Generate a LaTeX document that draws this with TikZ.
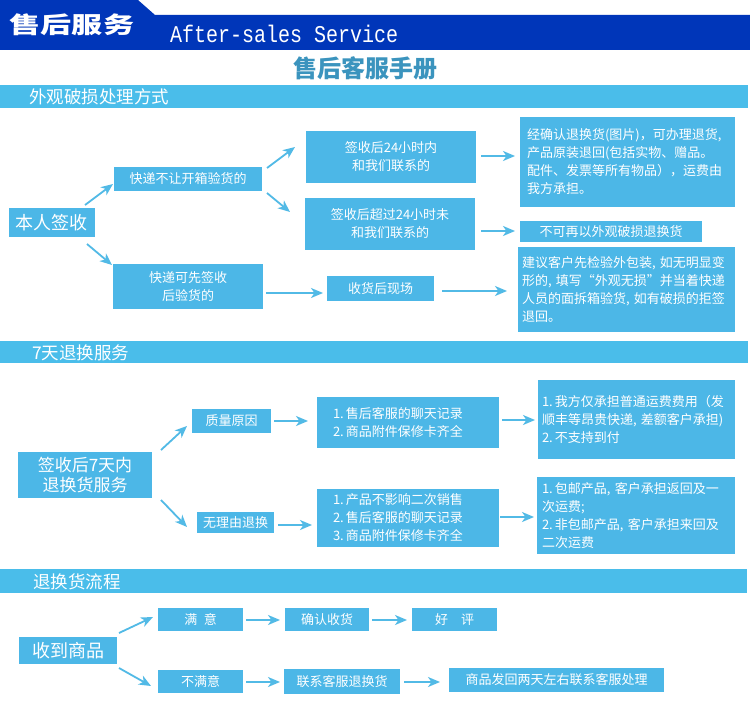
\documentclass[tikz,border=0pt]{standalone}
\usepackage{fontspec}
\usepackage{graphicx}
\setmainfont{Noto Sans CJK SC}
\newfontfamily\monof{Liberation Mono}
\usetikzlibrary{arrows.meta,calc}
\definecolor{hdr}{RGB}{0,54,185}
\definecolor{boxc}{RGB}{76,183,231}
\definecolor{barc}{RGB}{74,189,234}
\definecolor{ttl}{RGB}{59,148,190}
\definecolor{arrc}{RGB}{82,186,230}
\newcommand{\nm}[1]{#1.\hspace{2pt}}
\begin{document}
\begin{tikzpicture}[x=1pt,y=-1pt,
  box/.style={fill=boxc,text=white,inner sep=0pt,outer sep=0pt,font=\fontsize{13}{18}\selectfont,align=center},
  lbox/.style={box,align=left},
  bigbox/.style={box,font=\fontsize{18}{20}\selectfont},
  barlabel/.style={anchor=west,text=white,inner sep=0pt,font=\fontsize{17.5}{18}\selectfont},
  arr/.style={draw=arrc,line width=1.8pt,-{Stealth[length=12pt,width=10pt,inset=3.5pt]}}]
\useasboundingbox (0,0) rectangle (750,706);
\fill[white] (0,0) rectangle (750,706);
% header
\fill[hdr] (0,0) -- (138,0) -- (155,15) -- (750,15) -- (750,50) -- (0,50) -- cycle;
\node[text=white,inner sep=0pt,font=\bfseries\fontsize{23}{23}\selectfont] (t1) at (72,25) {\scalebox{1.35}[1]{售后服务}};
\node[anchor=west,text=white,inner sep=0pt,font=\monof\fontsize{20}{20}\selectfont] (t2) at (170,34) {\scalebox{1}[1.2]{After-sales Service}};
\node[text=ttl,inner sep=0pt,font=\bfseries\fontsize{24}{24}\selectfont] (t3) at (365.5,68.5) {售后客服手册};
% section bars
\fill[barc] (0,85) rectangle (748,108);
\node[barlabel] (h1) at (29,97) {外观破损处理方式};
\fill[barc] (0,341) rectangle (748,363);
\node[barlabel] (h2) at (32,353) {7天退换服务};
\fill[barc] (0,569) rectangle (747,593);
\node[barlabel] (h3) at (33,582) {退换货流程};
% section 1
\node[bigbox,minimum width=86,minimum height=29] (nr) at (52,222.5) {本人签收};
\node[box,minimum width=148,minimum height=24] (k1) at (188,179) {快递不让开箱验货的};
\node[box,minimum width=150,minimum height=45] (k2) at (188,286.5) {快递可先签收\\后验货的};
\node[box,minimum width=170,minimum height=52] (b1) at (391,157) {签收后24小时内\\和我们联系的};
\node[box,minimum width=170,minimum height=52] (b2) at (390,224) {签收后超过24小时未\\和我们联系的};
\node[box,minimum width=107,minimum height=25] (sh) at (380.5,288.5) {收货后现场};
\node[lbox,minimum width=215,minimum height=90,inner xsep=7pt,text width=201pt] (c1) at (627.5,162)
  {\mbox{经确认退换货(图片)，可办理退货,}\\\mbox{产品原装退回(包括实物、赠品。}\\\mbox{配件、发票等所有物品），运费由}\\\mbox{我方承担。}};
\node[box,minimum width=182,minimum height=21] (c2) at (611,231.5) {不可再以外观破损退换货};
\node[lbox,minimum width=217,minimum height=85,inner xsep=4pt,text width=209pt] (c3) at (626.5,289.5)
  {\mbox{建议客户先检验外包装, 如无明显变}\\\mbox{形的, 填写“外观无损”并当着快递}\\\mbox{人员的面拆箱验货, 如有破损的拒签}\\\mbox{退回。}};
% section 2
\node[box,font=\fontsize{17}{20}\selectfont,minimum width=134,minimum height=46] (s2) at (85,475) {签收后7天内\\退换货服务};
\node[box,minimum width=79,minimum height=24] (q1) at (231.5,421) {质量原因};
\node[box,minimum width=77,minimum height=21] (q2) at (235.5,522.5) {无理由退换};
\node[lbox,minimum width=182,minimum height=51,inner xsep=16pt,text width=150pt] (d1) at (408,422.5)
  {\mbox{\nm1售后客服的聊天记录}\\\mbox{\nm2商品附件保修卡齐全}};
\node[lbox,minimum width=182,minimum height=58,inner xsep=16pt,text width=150pt] (d2) at (408,518)
  {\mbox{\nm1产品不影响二次销售}\\\mbox{\nm2售后客服的聊天记录}\\\mbox{\nm3商品附件保修卡齐全}};
\node[lbox,minimum width=197,minimum height=79,inner xsep=4pt,text width=189pt] (e1) at (636.5,419.5)
  {\mbox{\nm1我方仅承担普通运费费用（发}\\\mbox{顺丰等昂贵快递, 差额客户承担)}\\\mbox{\nm2不支持到付}};
\node[lbox,minimum width=198,minimum height=77,inner xsep=5pt,text width=188pt] (e2) at (636,515.5)
  {\mbox{\nm1包邮产品, 客户承担返回及一}\\\mbox{次运费;}\\\mbox{\nm2非包邮产品, 客户承担来回及}\\\mbox{二次运费}};
% section 3
\node[bigbox,minimum width=98,minimum height=27] (r) at (68,650.5) {收到商品};
\node[box,minimum width=85,minimum height=23] (m1) at (200.5,619.5) {满\enspace 意};
\node[box,minimum width=84,minimum height=23] (m2) at (327,619.5) {确认收货};
\node[box,minimum width=85,minimum height=23] (m3) at (454.5,619.5) {好\quad 评};
\node[box,minimum width=85,minimum height=23] (n1) at (200.5,681.5) {不满意};
\node[box,minimum width=116,minimum height=25] (n2) at (342,681.5) {联系客服退换货};
\node[box,minimum width=215,minimum height=24] (n3) at (556.5,680) {商品发回两天左右联系客服处理};
% arrows section 1
\draw[arr] ($(nr.north east)+(-10,-3)$) -- ($(k1.west)+(-1,5)$);
\draw[arr] ($(nr.south east)+(-8,7)$) -- ($(k2.north west)+(-1,1)$);
\draw[arr] ($(k1.north east)+(5,1)$) -- ($(b1.west)+(-11,-10)$);
\draw[arr] ($(k1.south east)+(5,2)$) -- ($(b2.west)+(-15,-12)$);
\draw[arr] ($(k2.east)+(3,6.5)$) -- ($(sh.west|-k2.east)+(-4,6.5)$);
\draw[arr] ($(b1.east)+(5,-1)$) -- ($(c1.west|-b1.east)+(-5,-1)$);
\draw[arr] ($(b2.east)+(6,7)$) -- ($(c2.west|-b2.east)+(-5,7)$);
\draw[arr] ($(sh.east)+(8,2.5)$) -- ($(c3.west|-sh.east)+(-11,2.5)$);
% arrows section 2
\draw[arr] ($(s2.north east)+(9,-2)$) -- ($(q1.west)+(-5,5)$);
\draw[arr] ($(s2.south east)+(9,2)$) -- ($(q2.west)+(-10,4.5)$);
\draw[arr] ($(q1.east)+(3,0)$) -- ($(d1.west|-q1.east)+(-9,0)$);
\draw[arr] ($(q2.east)+(4,2.5)$) -- ($(d2.west|-q2.east)+(-5,2.5)$);
\draw[arr] ($(d1.east)+(3,-2.5)$) -- ($(e1.west|-d1.east)+(-3,-2.5)$);
\draw[arr] ($(d2.east)+(1,-1)$) -- ($(e2.west|-d2.east)+(-3,-1)$);
% arrows section 3
\draw[arr] ($(r.north east)+(2,-4)$) -- ($(m1.west)+(-5,-2.5)$);
\draw[arr] ($(r.south east)+(2,4)$) -- ($(n1.west)+(-7,4.5)$);
\draw[arr] ($(m1.east)+(3,0.5)$) -- ($(m2.west|-m1.east)+(-5,0.5)$);
\draw[arr] ($(m2.east)+(3,0.5)$) -- ($(m3.west|-m2.east)+(-5,0.5)$);
\draw[arr] ($(n1.east)+(3,0.5)$) -- ($(n2.west|-n1.east)+(-4,0.5)$);
\draw[arr] ($(n2.east)+(4,0.5)$) -- ($(n3.west|-n2.east)+(-9,0.5)$);
\end{tikzpicture}
\end{document}
